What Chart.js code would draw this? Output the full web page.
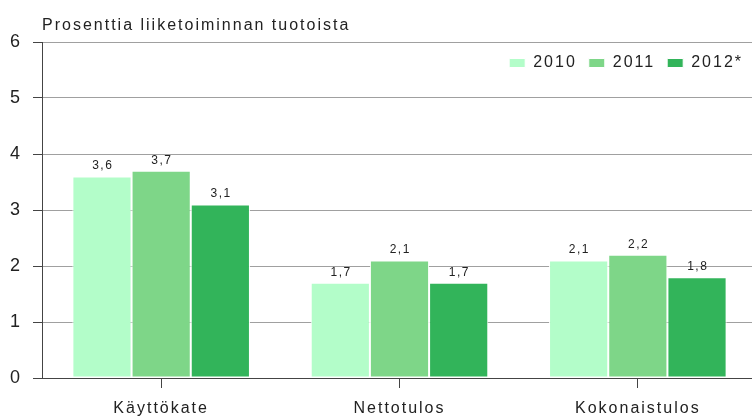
<!DOCTYPE html>
<html><head><meta charset="utf-8">
<script src="https://cdn.jsdelivr.net/npm/chart.js@4.4.1/dist/chart.umd.min.js"></script>
<style>html,body{margin:0;padding:0;background:#fff;overflow:hidden}#wrap{width:752px;height:417px;position:relative;overflow:hidden}</style>
</head><body><div id="wrap"><canvas id="c" width="757" height="417"></canvas></div>
<script>
const categories = ['Käyttökate', 'Nettotulos', 'Kokonaistulos'];
const seriesNames = ['2010', '2011', '2012*'];
const values2010 = [3.6, 1.7, 2.1];
const values2011 = [3.7, 2.1, 2.2];
const values2012 = [3.1, 1.7, 1.8];
const yTicks = [0, 1, 2, 3, 4, 5, 6];
const subtitle = 'Prosenttia liiketoiminnan tuotoista';
const seriesColors = ['#b3fdc9', '#7ed688', '#32b45a'];

const FONT = "'Liberation Sans', Arial, sans-serif";
const allSeries = [values2010, values2011, values2012];

const helper = {
  id: 'helper',
  beforeInit(chart) {
    chart.ctx.letterSpacing = '2px';
  },
  afterInit(chart) {
    const lg = chart.legend;
    if (lg) {
      const f = lg.fit;
      lg.fit = function () {
        this.ctx.letterSpacing = '2px';
        f.call(this);
        this.height = 0;
      };
      lg.draw = function () {
        if (this.options.display) {
          this.ctx.save();
          this.ctx.letterSpacing = '2px';
          this.top += 1;
          this.right -= 2;
          this._draw();
          this.right += 2;
          this.top -= 1;
          this.ctx.restore();
        }
      };
    }
  },
  beforeUpdate(chart) { chart.ctx.letterSpacing = '2px'; },
  beforeLayout(chart) { chart.ctx.letterSpacing = '2px'; },
  beforeDraw(chart) {
    chart.ctx.letterSpacing = '2px';
  },
  afterDatasetsDraw(chart) {
    const ctx = chart.ctx;
    ctx.save();
    ctx.letterSpacing = '1.5px';
    ctx.font = '12px ' + FONT;
    ctx.fillStyle = '#222';
    ctx.textAlign = 'center';
    ctx.textBaseline = 'alphabetic';
    chart.data.datasets.forEach((ds, i) => {
      const meta = chart.getDatasetMeta(i);
      meta.data.forEach((el, j) => {
        const v = ds.data[j];
        ctx.fillText(v.toFixed(1).replace('.', ','), el.x + 0.75, el.y - 7);
      });
    });
    ctx.restore();
  },
  afterDraw(chart) {
    const ctx = chart.ctx;
    ctx.save();
    ctx.letterSpacing = '2px';
    ctx.font = '16px ' + FONT;
    ctx.fillStyle = '#222';
    ctx.textAlign = 'left';
    ctx.textBaseline = 'alphabetic';
    ctx.fillText(subtitle, chart.chartArea.left, 30);
    ctx.restore();
  }
};

new Chart(document.getElementById('c'), {
  type: 'bar',
  data: {
    labels: categories,
    datasets: seriesNames.map((name, i) => ({
      label: name,
      data: allSeries[i],
      backgroundColor: seriesColors[i],
      borderColor: '#ffffff',
      borderWidth: 1,
      borderSkipped: false,
      categoryPercentage: 0.745,
      barPercentage: 1
    }))
  },
  options: {
    responsive: false,
    animation: false,
    devicePixelRatio: 1,
    layout: { padding: { top: 42, right: 0, left: 0, bottom: 0 } },
    plugins: {
      legend: {
        position: 'top',
        align: 'end',
        labels: {
          boxWidth: 16,
          boxHeight: 9,
          padding: 12,
          color: '#222',
          font: { family: FONT, size: 16 }
        }
      },
      title: { display: false },
      tooltip: { enabled: false }
    },
    scales: {
      x: {
        grid: {
          display: true,
          drawOnChartArea: false,
          offset: false,
          tickLength: 10,
          tickColor: '#444',
          tickWidth: 1
        },
        border: { color: '#444', width: 1 },
        ticks: { color: '#222', font: { family: FONT, size: 16 }, padding: 11, maxRotation: 0 },
        afterFit(s) { s.height = 39; s.paddingRight = 0; s.paddingLeft = 0; }
      },
      y: {
        min: 0,
        max: 6,
        afterBuildTicks(s) { s.ticks = yTicks.map(v => ({ value: v })); },
        grid: {
          color: (c) => (c.tick && c.tick.value === 0 ? '#444' : '#a0a0a0'),
          tickColor: '#444',
          tickLength: 9,
          lineWidth: 1
        },
        border: { color: '#444', width: 1 },
        ticks: {
          color: '#222',
          font: { family: FONT, size: 18 },
          padding: 11,
          callback: (v) => String(v)
        },
        afterFit(s) { s.width = 42; s.paddingTop = 0; s.paddingBottom = 0; }
      }
    }
  },
  plugins: [helper]
});
</script>
</body></html>
